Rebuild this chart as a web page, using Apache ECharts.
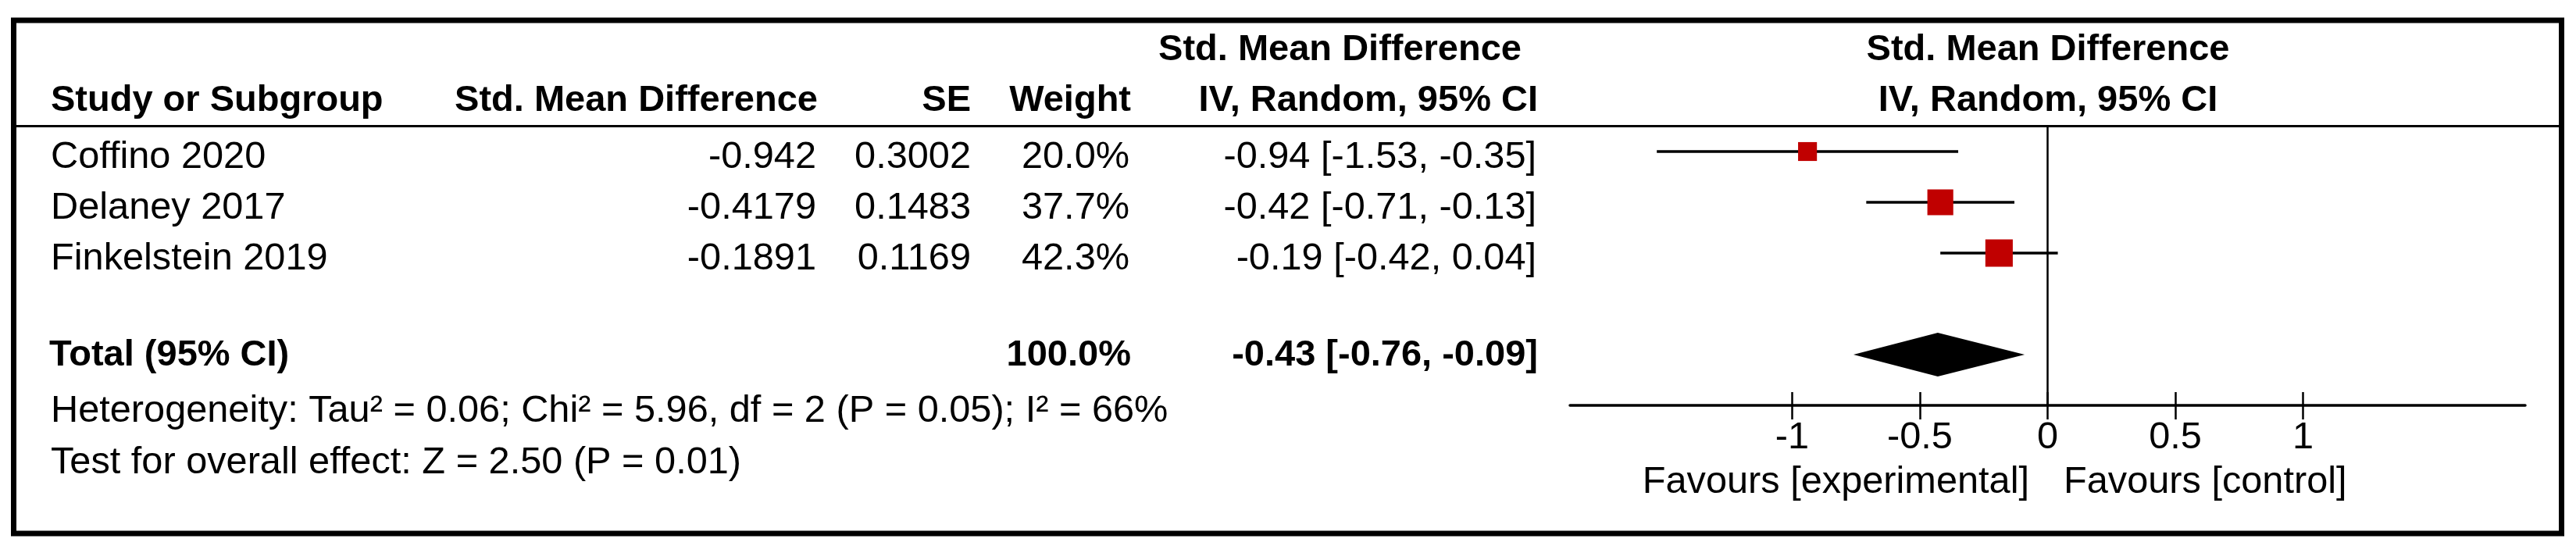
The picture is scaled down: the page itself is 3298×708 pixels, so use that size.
<!DOCTYPE html>
<html>
<head>
<meta charset="utf-8">
<script src="https://cdn.jsdelivr.net/npm/echarts@6/dist/echarts.min.js"></script>
<style>
html,body{margin:0;padding:0;background:#fff;}
#chart{width:3298px;height:708px;}
</style>
</head>
<body>
<div id="chart"></div>
<script>
// ---- data ----
const studies = ['Coffino 2020', 'Delaney 2017', 'Finkelstein 2019'];
const smdValues = [-0.942, -0.4179, -0.1891];
const seValues = [0.3002, 0.1483, 0.1169];
const weights = [20.0, 37.7, 42.3];
const ciEst = [-0.94, -0.42, -0.19];
const ciLow = [-1.53, -0.71, -0.42];
const ciHigh = [-0.35, -0.13, 0.04];
const totalLabel = 'Total (95% CI)';
const totalWeight = 100.0;
const totalCI = [-0.43, -0.76, -0.09]; // est, low, high
const tickValues = [-1, -0.5, 0, 0.5, 1];
const heterogeneityText = 'Heterogeneity: Tau\u00b2 = 0.06; Chi\u00b2 = 5.96, df = 2 (P = 0.05); I\u00b2 = 66%';
const overallText = 'Test for overall effect: Z = 2.50 (P = 0.01)';
const favoursLeft = 'Favours [experimental]';
const favoursRight = 'Favours [control]';

// ---- layout ----
const FS = 48.7;
const FSB = 47;
const FF = "'Liberation Sans', Arial, sans-serif";
const REG = FS + 'px ' + FF;
const BOLD = 'bold ' + FSB + 'px ' + FF;
const COL = {name: 65, smd: 1045, se: 1243, weight: 1446, ci: 1967};
const TOTAL_ROW = 4;
const GRID = {left: 2010, width: 1223, top: 161.5, bottom: 189};

function fmtCI(e, l, h) {
  return e.toFixed(2) + ' [' + l.toFixed(2) + ', ' + h.toFixed(2) + ']';
}
function txt(x, y, text, font, align) {
  return {type: 'text', x: x, y: y, silent: true,
    style: {text: text, font: font, fill: '#000', align: align || 'left', verticalAlign: 'middle',
            textAlign: align || 'left', textVerticalAlign: 'middle'}};
}

const studyData = studies.map((s, i) => [ciEst[i], ciLow[i], ciHigh[i], i, weights[i], i]);

const chart = echarts.init(document.getElementById('chart'), null, {renderer: 'canvas'});
const option = {
  animation: false,
  backgroundColor: '#fff',
  grid: [
    Object.assign({containLabel: false}, GRID),
    Object.assign({containLabel: false}, GRID)
  ],
  xAxis: [
    {type: 'value', gridIndex: 0, min: -1.87, max: 1.87, position: 'bottom',
     axisLine: {show: true, onZero: false, lineStyle: {color: '#000', width: 3.5}},
     axisTick: {show: true, inside: false, length: 18, customValues: tickValues, lineStyle: {color: '#000', width: 2.5}},
     axisLabel: {show: true, customValues: tickValues, margin: 17, color: '#000', fontSize: FS, fontFamily: FF,
                 formatter: v => String(v)},
     splitLine: {show: false}},
    {type: 'value', gridIndex: 1, min: -1.87, max: 1.87, position: 'bottom',
     axisLine: {show: false, onZero: false},
     axisTick: {show: true, inside: true, length: 17, customValues: tickValues, lineStyle: {color: '#000', width: 2.5}},
     axisLabel: {show: false},
     splitLine: {show: false}}
  ],
  yAxis: [
    {type: 'value', gridIndex: 0, inverse: true, min: -0.5, max: 5, show: false},
    {type: 'value', gridIndex: 1, inverse: true, min: -0.5, max: 5, show: false}
  ],
  series: [
    {
      type: 'custom', name: 'studies', xAxisIndex: 0, yAxisIndex: 0, clip: false,
      data: studyData,
      encode: {x: [0, 1, 2], y: 3},
      renderItem: function (params, api) {
        const row = api.value(3);
        const i = api.value(5);
        const p0 = api.coord([api.value(1), row]);
        const p1 = api.coord([api.value(2), row]);
        const pc = api.coord([api.value(0), row]);
        const s = 5.4 * Math.sqrt(api.value(4));
        const ty = pc[1] + 7.5;
        return {type: 'group', children: [
          {type: 'line', shape: {x1: p0[0], y1: p0[1], x2: p1[0], y2: p1[1]}, style: {stroke: '#000', lineWidth: 3.5}},
          {type: 'rect', shape: {x: pc[0] - s / 2, y: pc[1] - s / 2, width: s, height: s}, style: {fill: '#C00000'}},
          txt(COL.name, ty, studies[i], REG, 'left'),
          txt(COL.smd, ty, String(smdValues[i]), REG, 'right'),
          txt(COL.se, ty, String(seValues[i]), REG, 'right'),
          txt(COL.weight, ty, weights[i].toFixed(1) + '%', REG, 'right'),
          txt(COL.ci, ty, fmtCI(ciEst[i], ciLow[i], ciHigh[i]), REG, 'right')
        ]};
      },
      markLine: {
        silent: true, symbol: 'none', animation: false,
        label: {show: false},
        lineStyle: {color: '#000', width: 2.5, type: 'solid'},
        data: [{xAxis: 0}]
      }
    },
    {
      type: 'custom', name: 'total', xAxisIndex: 0, yAxisIndex: 0, clip: false,
      data: [[totalCI[0], totalCI[1], totalCI[2], TOTAL_ROW]],
      encode: {x: [0, 1, 2], y: 3},
      renderItem: function (params, api) {
        const row = api.value(3);
        const pl = api.coord([api.value(1), row]);
        const ph = api.coord([api.value(2), row]);
        const pc = api.coord([api.value(0), row]);
        const h = 28;
        const ty = pc[1] + 1;
        return {type: 'group', children: [
          {type: 'polygon', shape: {points: [[pl[0], pc[1]], [pc[0], pc[1] - h], [ph[0], pc[1]], [pc[0], pc[1] + h]]},
           style: {fill: '#000'}},
          txt(COL.name - 2, ty, totalLabel, BOLD, 'left'),
          txt(COL.weight + 2, ty, totalWeight.toFixed(1) + '%', BOLD, 'right'),
          txt(COL.ci + 2, ty, fmtCI(totalCI[0], totalCI[1], totalCI[2]), BOLD, 'right')
        ]};
      }
    }
  ],
  graphic: [
    {type: 'rect', shape: {x: 17.5, y: 26, width: 3262, height: 657}, style: {fill: 'none', stroke: '#000', lineWidth: 7}, silent: true},
    {type: 'line', shape: {x1: 18, y1: 161.5, x2: 3280, y2: 161.5}, style: {stroke: '#000', lineWidth: 3}, silent: true},
    txt(1948, 64.5, 'Std. Mean Difference', BOLD, 'right'),
    txt(2622, 64.5, 'Std. Mean Difference', BOLD, 'center'),
    txt(65, 129.5, 'Study or Subgroup', BOLD, 'left'),
    txt(1047, 129.5, 'Std. Mean Difference', BOLD, 'right'),
    txt(1243, 129.5, 'SE', BOLD, 'right'),
    txt(1448, 129.5, 'Weight', BOLD, 'right'),
    txt(1969, 129.5, 'IV, Random, 95% CI', BOLD, 'right'),
    txt(2622, 129.5, 'IV, Random, 95% CI', BOLD, 'center'),
    txt(65, 526.5, heterogeneityText, REG, 'left'),
    txt(65, 592.5, overallText, REG, 'left'),
    txt(2598, 617.5, favoursLeft, REG, 'right'),
    txt(2642, 617.5, favoursRight, REG, 'left')
  ]
};
chart.setOption(option);
</script>
</body>
</html>
